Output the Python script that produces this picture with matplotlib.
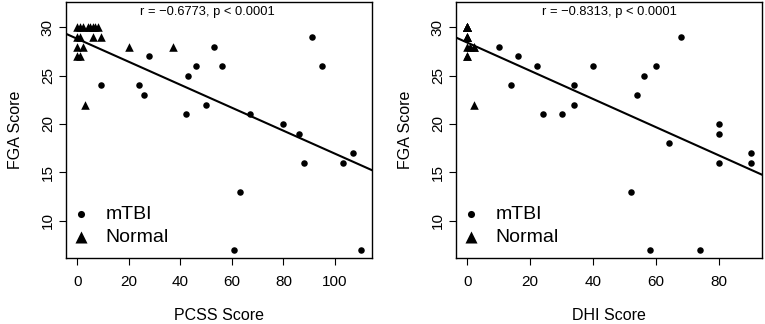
import numpy as np
import matplotlib
matplotlib.use("Agg")
import matplotlib.pyplot as plt

plt.rcParams['font.family'] = ['Liberation Sans', 'DejaVu Sans']

# FGA vs PCSS (left panel)
pcss_mtbi = [9, 28, 24, 26, 42, 43, 46, 50, 53, 56, 61, 63, 67, 80, 86, 88, 91, 95, 103, 107, 110]
fga_mtbi_l = [24, 27, 24, 23, 21, 25, 26, 22, 28, 26, 7, 13, 21, 20, 19, 16, 29, 26, 16, 17, 7]
pcss_norm = [0, 1, 2, 4, 5, 6, 7, 8, 0, 1, 6, 9, 0, 2, 20, 37, 0, 1, 3]
fga_norm_l = [30, 30, 30, 30, 30, 30, 30, 30, 29, 29, 29, 29, 28, 28, 28, 28, 27, 27, 22]

# FGA vs DHI (right panel)
dhi_mtbi = [10, 16, 14, 22, 24, 30, 34, 34, 40, 52, 54, 56, 58, 60, 64, 68, 74, 80, 80, 80, 90, 90]
fga_mtbi_r = [28, 27, 24, 26, 21, 21, 24, 22, 26, 13, 23, 25, 7, 26, 18, 29, 7, 20, 19, 16, 17, 16]
dhi_norm = [0, 0, 0, 0, 0, 0, 0, 0, 0, 0, 0, 0, 0, 1, 2, 2, 0, 0, 2]
fga_norm_r = [30, 30, 30, 30, 30, 30, 30, 30, 29, 29, 29, 29, 28, 28, 28, 28, 27, 27, 22]

stats_l = "r = \u22120.6773, p < 0.0001"
stats_r = "r = \u22120.8313, p < 0.0001"

fig = plt.figure(figsize=(7.65, 3.24), dpi=100)
ax1 = fig.add_axes([0.0863, 0.2037, 0.400, 0.790])
ax2 = fig.add_axes([0.596, 0.2037, 0.400, 0.790])


def panel(ax, xm, ym, xn, yn, xlabel, xticks, xlim, stats, tx):
    ax.scatter(xm, ym, s=22, marker='o', color='black', linewidths=0, label='mTBI', zorder=3)
    ax.scatter(xn, yn, s=38, marker='^', color='black', linewidths=0, label='Normal', zorder=3)
    x_all = np.array(list(xm) + list(xn), dtype=float)
    y_all = np.array(list(ym) + list(yn), dtype=float)
    b, a = np.polyfit(x_all, y_all, 1)
    xs = np.array(xlim)
    ax.plot(xs, a + b * xs, color='black', lw=1.5, zorder=2)
    ax.set_xlim(*xlim)
    ax.set_ylim(6.15, 32.6)
    ax.set_xticks(xticks)
    ax.set_yticks([10, 15, 20, 25, 30])
    ax.tick_params(axis='both', labelsize=11, length=5, width=0.8)
    ax.tick_params(axis='x', pad=7)
    ax.tick_params(axis='y', pad=3)
    for lab in ax.get_yticklabels():
        lab.set_rotation(90)
        lab.set_va('center')
    for sp in ax.spines.values():
        sp.set_linewidth(1.0)
    ax.set_xlabel(xlabel, fontsize=11.5, labelpad=14)
    ax.set_ylabel("FGA Score", fontsize=11.5, labelpad=13)
    ax.text(tx, 31.6, stats, ha='center', va='center', fontsize=9.3)
    leg = ax.legend(loc='lower left', bbox_to_anchor=(-0.035, 0.0), frameon=False,
                    fontsize=14, handletextpad=0.6,
                    labelspacing=0.3, handlelength=1.4, borderaxespad=0.2)
    leg.legend_handles[0].set_sizes([26])
    leg.legend_handles[1].set_sizes([75])


panel(ax1, pcss_mtbi, fga_mtbi_l, pcss_norm, fga_norm_l, "PCSS Score",
      [0, 20, 40, 60, 80, 100], (-4.4, 114.4), stats_l, 50.5)
panel(ax2, dhi_mtbi, fga_mtbi_r, dhi_norm, fga_norm_r, "DHI Score",
      [0, 20, 40, 60, 80], (-3.6, 93.6), stats_r, 45)

fig.savefig("out.png", dpi=100)
